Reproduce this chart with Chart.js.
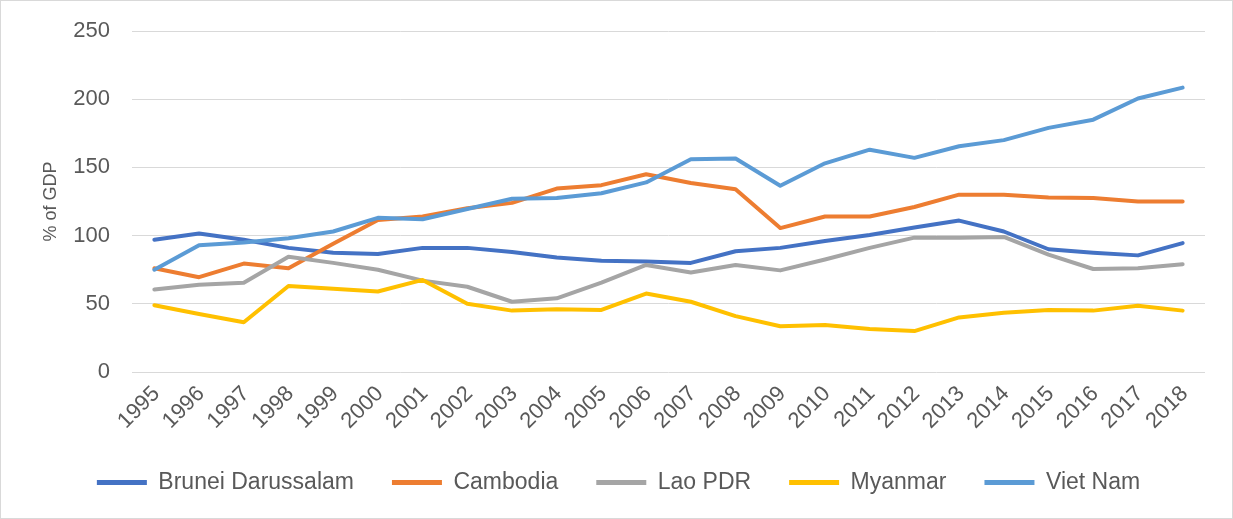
<!DOCTYPE html>
<html>
<head>
<meta charset="utf-8">
<script src="https://cdn.jsdelivr.net/npm/chart.js@4/dist/chart.umd.min.js"></script>
<style>
  html, body { margin: 0; padding: 0; background: #ffffff; }
  #wrap { position: relative; width: 1233px; height: 519px; }
</style>
</head>
<body>
<div id="wrap"><canvas id="c" width="1233" height="519"></canvas></div>
<script>
const years = ["1995","1996","1997","1998","1999","2000","2001","2002","2003","2004","2005","2006","2007","2008","2009","2010","2011","2012","2013","2014","2015","2016","2017","2018"];
const seriesNames = ["Brunei Darussalam","Cambodia","Lao PDR","Myanmar","Viet Nam"];
const brunei   = [97, 101.5, 97, 91, 87.5, 86.5, 91, 91, 88, 84, 81.5, 81, 80, 88.5, 91, 96, 100.5, 106, 111, 103, 90, 87.5, 85.5, 94.5];
const cambodia = [76, 69.5, 79.5, 76, 94, 111.5, 114, 120, 124, 134.5, 137, 145, 138.5, 134, 105.5, 114, 114, 121, 130, 130, 128, 127.5, 125, 125];
const lao      = [60.5, 64, 65.5, 84.5, 80, 75, 67, 62.5, 51.5, 54, 65.5, 78.5, 73, 78.5, 74.5, 82.5, 91, 98.5, 98.5, 99, 86, 75.5, 76, 79];
const myanmar  = [49, 42.5, 36.5, 63, 61, 59, 67.5, 50, 45, 46, 45.5, 57.5, 51.5, 41, 33.5, 34.5, 31.5, 30, 40, 43.5, 45.5, 45, 48.5, 45];
const vietnam  = [75, 93, 95, 98, 103, 113, 112, 119.5, 127, 127.5, 131, 139, 156, 156.5, 136.5, 153, 163, 157, 165.5, 170, 179, 185, 200.5, 208.5];
const yTicks = [0, 50, 100, 150, 200, 250];
const yTitle = "% of GDP";

const colors = ["#4472C4", "#ED7D31", "#A5A5A5", "#FFC000", "#5B9BD5"];
const values = [brunei, cambodia, lao, myanmar, vietnam];

const datasets = seriesNames.map((name, i) => ({
  label: name,
  data: values[i],
  borderColor: colors[i],
  backgroundColor: colors[i],
  borderWidth: 4,
  pointRadius: 0,
  pointHoverRadius: 0,
  tension: 0,
  fill: false,
  borderCapStyle: 'round',
  borderJoinStyle: 'round',
  order: seriesNames.length - i
}));

const borderPlugin = {
  id: 'outerBorder',
  afterDraw(chart) {
    const ctx = chart.ctx;
    ctx.save();
    ctx.strokeStyle = '#d9d9d9';
    ctx.lineWidth = 1;
    ctx.strokeRect(0.5, 0.5, chart.width - 1, chart.height - 1);
    ctx.restore();
  }
};

new Chart(document.getElementById('c'), {
  type: 'line',
  data: { labels: years, datasets },
  plugins: [borderPlugin],
  options: {
    responsive: false,
    animation: false,
    devicePixelRatio: 1,
    layout: { padding: { left: 32, right: 28, top: 31, bottom: 15 } },
    plugins: {
      tooltip: { enabled: false },
      legend: {
        position: 'bottom',
        labels: {
          boxWidth: 50,
          boxHeight: 5,
          padding: 38,
          color: '#595959',
          font: { family: 'Liberation Sans, Arial, sans-serif', size: 23 },
          sort: (a, b) => a.datasetIndex - b.datasetIndex,
          generateLabels(chart) {
            return chart.data.datasets.map((ds, i) => ({
              text: ds.label,
              fillStyle: ds.borderColor,
              strokeStyle: ds.borderColor,
              lineWidth: 0,
              hidden: false,
              datasetIndex: i,
              fontColor: '#595959'
            }));
          }
        }
      }
    },
    scales: {
      x: {
        offset: true,
        grid: { display: false, drawTicks: false },
        border: { display: false },
        ticks: {
          color: '#595959',
          font: { family: 'Liberation Sans, Arial, sans-serif', size: 22 },
          minRotation: 45,
          maxRotation: 45,
          autoSkip: false,
          padding: 9,
          labelOffset: 2
        },
        afterFit(scale) { scale.height = 61; }
      },
      y: {
        min: 0,
        max: 250,
        afterBuildTicks(scale) { scale.ticks = yTicks.map(v => ({ value: v })); },
        grid: { color: '#d9d9d9', lineWidth: 1, drawTicks: true, tickLength: 18, tickColor: 'rgba(0,0,0,0)' },
        border: { display: false },
        ticks: {
          color: '#595959',
          font: { family: 'Liberation Sans, Arial, sans-serif', size: 22 },
          padding: 4
        },
        title: {
          display: true,
          text: yTitle,
          color: '#595959',
          font: { family: 'Liberation Sans, Arial, sans-serif', size: 18 },
          padding: { top: 8, bottom: 0 }
        },
        afterFit(scale) { scale.width = 100; }
      }
    }
  }
});
</script>
</body>
</html>
